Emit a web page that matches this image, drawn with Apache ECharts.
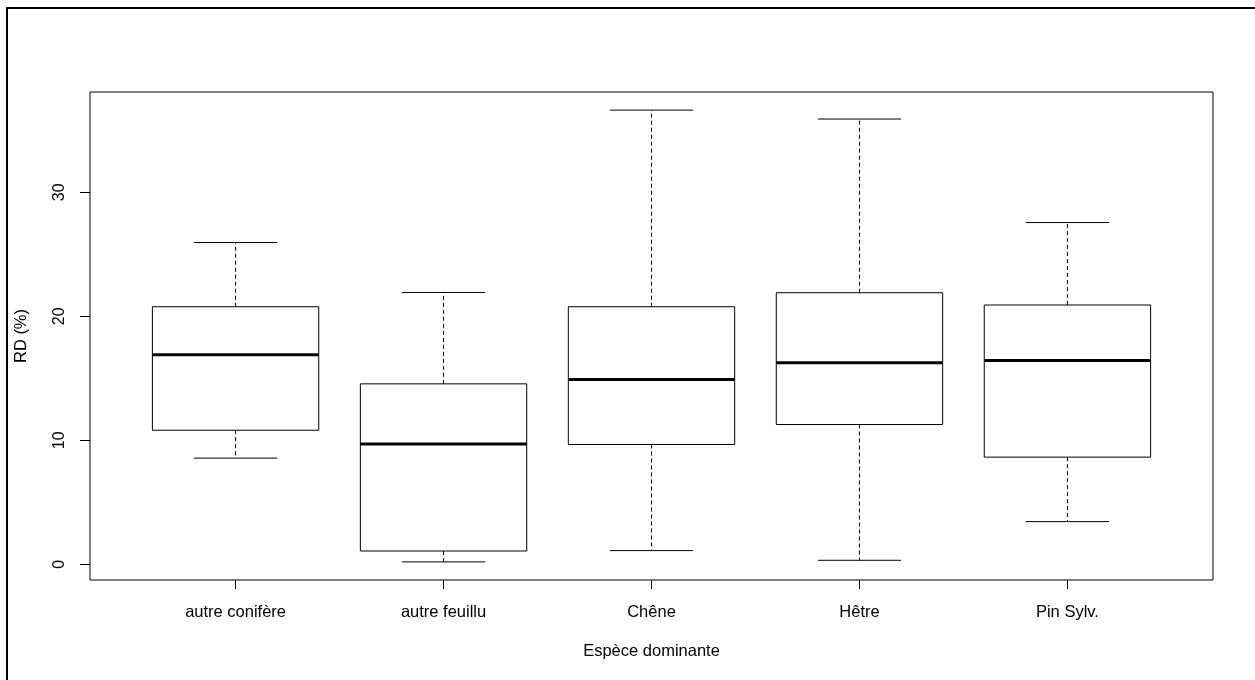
<!DOCTYPE html>
<html>
<head>
<meta charset="utf-8">
<script src="https://cdn.jsdelivr.net/npm/echarts@6/dist/echarts.min.js"></script>
<style>html,body{margin:0;padding:0;background:#fff;}#c{width:1255px;height:680px;}</style>
</head>
<body>
<div id="c"></div>
<script>
const categories = ['autre conifère', 'autre feuillu', 'Chêne', 'Hêtre', 'Pin Sylv.'];
const whiskerLow  = [8.56, 0.19, 1.10, 0.32, 3.44];
const q1          = [10.81, 1.07, 9.66, 11.27, 8.64];
const medians     = [16.90, 9.69, 14.90, 16.26, 16.43];
const q3          = [20.77, 14.55, 20.77, 21.90, 20.91];
const whiskerHigh = [25.95, 21.92, 36.63, 35.91, 27.56];
const yTicks = [0, 10, 20, 30];
const xTicks = [1, 2, 3, 4, 5];

const data = categories.map((c, i) => [i + 1, whiskerLow[i], q1[i], medians[i], q3[i], whiskerHigh[i]]);

const FONT = 'Liberation Sans, Arial, sans-serif';
const chart = echarts.init(document.getElementById('c'), null, {renderer: 'canvas'});

function renderItem(params, api) {
  const x = api.value(0);
  const lo = api.coord([x, api.value(1)]);
  const b1 = api.coord([x, api.value(2)]);
  const md = api.coord([x, api.value(3)]);
  const b3 = api.coord([x, api.value(4)]);
  const hi = api.coord([x, api.value(5)]);
  const boxW = api.size([0.8, 0])[0];
  const capW = boxW / 2;
  const cx = lo[0];
  const dash = {stroke: '#000', lineWidth: 1, lineDash: [4, 3]};
  const solid = {stroke: '#000', lineWidth: 1};
  return {
    type: 'group',
    children: [
      {type: 'line', shape: {x1: cx, y1: b3[1], x2: cx, y2: hi[1]}, style: dash},
      {type: 'line', shape: {x1: cx, y1: b1[1], x2: cx, y2: lo[1]}, style: dash},
      {type: 'line', shape: {x1: cx - capW / 2, y1: hi[1], x2: cx + capW / 2, y2: hi[1]}, style: solid},
      {type: 'line', shape: {x1: cx - capW / 2, y1: lo[1], x2: cx + capW / 2, y2: lo[1]}, style: solid},
      {type: 'rect', shape: {x: cx - boxW / 2, y: b3[1], width: boxW, height: b1[1] - b3[1]},
        style: {fill: '#fff', stroke: '#000', lineWidth: 1}},
      {type: 'line', shape: {x1: cx - boxW / 2, y1: md[1], x2: cx + boxW / 2, y2: md[1]},
        style: {stroke: '#000', lineWidth: 3}}
    ]
  };
}

chart.setOption({
  animation: false,
  backgroundColor: '#fff',
  graphic: [
    {type: 'line', shape: {x1: 6, y1: 8, x2: 1255, y2: 8}, style: {stroke: '#000', lineWidth: 2}, silent: true, z: 100},
    {type: 'line', shape: {x1: 7, y1: 7, x2: 7, y2: 680}, style: {stroke: '#000', lineWidth: 2}, silent: true, z: 100}
  ],
  grid: {left: 90, right: 42, top: 92, bottom: 100, show: true, borderColor: '#000', borderWidth: 1, backgroundColor: 'transparent'},
  xAxis: {
    type: 'value', min: 0.3, max: 5.7,
    name: 'Espèce dominante', nameLocation: 'middle', nameGap: 63,
    nameTextStyle: {fontFamily: FONT, fontSize: 16.5, color: '#000'},
    axisLine: {show: false, onZero: false},
    splitLine: {show: false},
    axisTick: {show: true, length: 9, lineStyle: {color: '#000'}, customValues: xTicks},
    axisLabel: {customValues: xTicks, margin: 24, fontFamily: FONT, fontSize: 16.5, color: '#000',
      formatter: v => categories[Math.round(v) - 1] || ''}
  },
  yAxis: {
    type: 'value', min: -1.27, max: 38.09,
    name: 'RD (%)', nameLocation: 'middle', nameGap: 60, nameRotate: 90,
    nameTextStyle: {fontFamily: FONT, fontSize: 16.5, color: '#000'},
    axisLine: {show: false, onZero: false},
    splitLine: {show: false},
    axisTick: {show: true, length: 10, lineStyle: {color: '#000'}, customValues: yTicks},
    axisLabel: {customValues: yTicks, rotate: 90, margin: 22, fontFamily: FONT, fontSize: 16, color: '#000'}
  },
  series: [{
    type: 'custom',
    renderItem: renderItem,
    data: data,
    encode: {x: 0, y: [1, 2, 3, 4, 5]},
    clip: false
  }]
});
</script>
</body>
</html>
